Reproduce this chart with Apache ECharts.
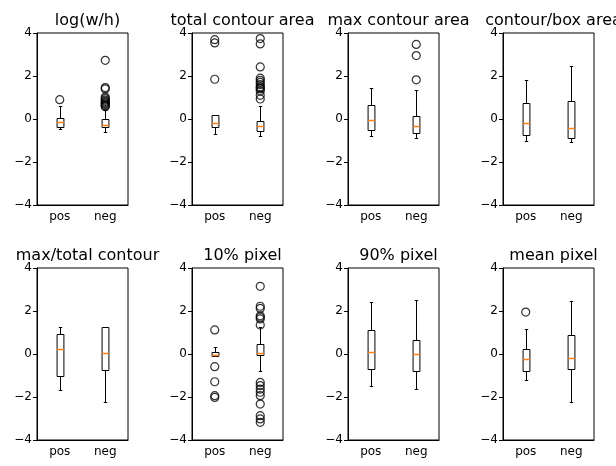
<!DOCTYPE html>
<html>
<head>
<meta charset="utf-8">
<script src="https://cdn.jsdelivr.net/npm/echarts@6/dist/echarts.min.js"></script>
<style>
  html, body { margin: 0; padding: 0; background: #fff; }
  #chart { width: 616px; height: 466px; }
</style>
</head>
<body>
<div id="chart"></div>
<script>
// panel titles, in reading order
const titles = ['log(w/h)', 'total contour area', 'max contour area', 'contour/box area',
  'max/total contour', '10% pixel', '90% pixel', 'mean pixel'];
const categories = ['pos', 'neg'];

// box stats per class: [whisker low, q1, median, q3, whisker high]
const logWHBox = [[-0.46, -0.38, -0.16, 0.05, 0.59], [-0.6, -0.37, -0.26, -0.02, 0.42]];
const logWHOut = [[0.9], [2.73, 1.46, 1.4, 1.02, 0.95, 0.88, 0.82, 0.77, 0.72, 0.67, 0.62, 0.57]];

const totalAreaBox = [[-0.72, -0.39, -0.19, 0.2, 0.2], [-0.77, -0.54, -0.31, -0.08, 0.59]];
const totalAreaOut = [[1.85, 3.54, 3.69], [0.93, 1.1, 1.3, 1.4, 1.45, 1.5, 1.6, 1.7, 1.8, 1.9, 2.42, 3.49, 3.74]];

const maxAreaBox = [[-0.78, -0.51, -0.06, 0.65, 1.43], [-0.87, -0.65, -0.31, 0.15, 1.33]];
const maxAreaOut = [[], [1.82, 2.95, 3.47]];

const contourBoxBox = [[-1.03, -0.74, -0.18, 0.73, 1.8], [-1.08, -0.88, -0.42, 0.84, 2.45]];
const contourBoxOut = [[], []];

const maxTotalBox = [[-1.67, -1.01, 0.25, 0.91, 1.27], [-2.22, -0.76, 0.03, 1.25, 1.25]];
const maxTotalOut = [[], []];

const pixel10Box = [[-0.08, -0.08, -0.03, 0.08, 0.31], [-0.78, -0.05, 0.03, 0.47, 1.24]];
const pixel10Out = [[1.12, -0.59, -1.29, -1.94, -2.02],
  [3.15, 2.22, 2.12, 1.78, 1.71, 1.63, 1.35, -1.32, -1.47, -1.63, -1.78, -1.94, -2.33, -2.87, -3.02, -3.18]];

const pixel90Box = [[-1.47, -0.7, 0.1, 1.12, 2.43], [-1.63, -0.79, -0.02, 0.65, 2.5]];
const pixel90Out = [[], []];

const meanPixelBox = [[-1.19, -0.79, -0.25, 0.23, 1.16], [-2.22, -0.7, -0.17, 0.88, 2.48]];
const meanPixelOut = [[1.95], []];

const panelBoxes = [logWHBox, totalAreaBox, maxAreaBox, contourBoxBox, maxTotalBox, pixel10Box, pixel90Box, meanPixelBox];
const panelOutliers = [logWHOut, totalAreaOut, maxAreaOut, contourBoxOut, maxTotalOut, pixel10Out, pixel90Out, meanPixelOut];

const yMin = -4, yMax = 4, yStep = 2;

// layout
const lefts = [37, 192, 348, 503];
const tops = [33, 268];
const W = 91, H = 172;
const font = 'DejaVu Sans';

const myChart = echarts.init(document.getElementById('chart'), null, { renderer: 'canvas' });

function px(v) { return Math.round(v) + 0.5; }

function renderBox(params, api) {
  const c = api.value(0);
  const band = api.size([1, 0])[0];
  const half = band * 0.075, cap = band * 0.0375;
  const cx = px(api.coord([c, 0])[0]);
  const y = i => px(api.coord([c, api.value(i)])[1]);
  const lo = y(1), q1 = y(2), med = y(3), q3 = y(4), hi = y(5);
  const line = { stroke: '#000', lineWidth: 1 };
  return {
    type: 'group',
    children: [
      { type: 'line', shape: { x1: cx, y1: q1, x2: cx, y2: lo }, style: line },
      { type: 'line', shape: { x1: cx, y1: q3, x2: cx, y2: hi }, style: line },
      { type: 'line', shape: { x1: cx - cap, y1: lo, x2: cx + cap, y2: lo }, style: line },
      { type: 'line', shape: { x1: cx - cap, y1: hi, x2: cx + cap, y2: hi }, style: line },
      { type: 'rect', shape: { x: cx - half, y: q3, width: half * 2, height: q1 - q3 },
        style: { fill: '#fff', stroke: '#000', lineWidth: 1 } },
      { type: 'line', shape: { x1: cx - half, y1: med, x2: cx + half, y2: med },
        style: { stroke: '#ff7f0e', lineWidth: 1.5 } }
    ]
  };
}

const grid = [], xAxis = [], yAxis = [], title = [], series = [];
titles.forEach((t, i) => {
  const left = lefts[i % 4], top = tops[Math.floor(i / 4)];
  grid.push({ left, top, width: W, height: H, show: true, borderColor: '#000', borderWidth: 1, backgroundColor: 'transparent' });
  title.push({
    text: t, left: left + W / 2, top: top - 25, textAlign: 'center',
    textStyle: { fontFamily: font, fontSize: 16, fontWeight: 'normal', color: '#000' }
  });
  xAxis.push({
    gridIndex: i, type: 'category', data: categories, position: 'bottom',
    axisLine: { onZero: false, lineStyle: { color: '#000' } },
    axisTick: { alignWithLabel: true, length: 4, lineStyle: { color: '#000' } },
    axisLabel: { fontFamily: font, fontSize: 12, color: '#000', margin: 6 },
    splitLine: { show: false }
  });
  yAxis.push({
    gridIndex: i, type: 'value', min: yMin, max: yMax, interval: yStep,
    axisLine: { show: true, lineStyle: { color: '#000' } },
    axisTick: { show: true, length: 4, lineStyle: { color: '#000' } },
    axisLabel: { fontFamily: font, fontSize: 12, color: '#000', margin: 5,
      formatter: v => String(v).replace('-', '\u2212') },
    splitLine: { show: false }
  });
  const boxes = panelBoxes[i];
  series.push({
    type: 'custom', xAxisIndex: i, yAxisIndex: i,
    data: boxes.map((b, k) => [k].concat(b)),
    renderItem: renderBox, silent: true
  });
  const pts = [];
  panelOutliers[i].forEach((arr, k) => arr.forEach(v => pts.push([k, v])));
  series.push({
    type: 'scatter', xAxisIndex: i, yAxisIndex: i, data: pts,
    symbol: 'circle', symbolSize: 8, silent: true,
    itemStyle: { color: 'rgba(0,0,0,0)', borderColor: '#000', borderWidth: 1.2 }
  });
});

myChart.setOption({
  animation: false,
  backgroundColor: '#fff',
  title, grid, xAxis, yAxis, series
});
</script>
</body>
</html>
